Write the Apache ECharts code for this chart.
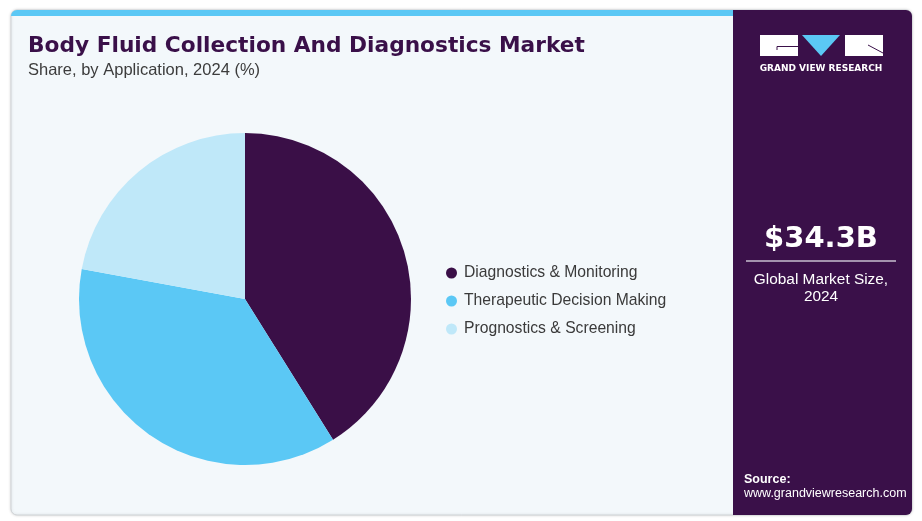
<!DOCTYPE html>
<html><head><meta charset="utf-8">
<script src="https://cdn.jsdelivr.net/npm/echarts@6/dist/echarts.min.js"></script>
<style>html,body{margin:0;padding:0;background:#fff;}#c{width:922px;height:521px;}</style>
</head><body><div id="c"></div>
<script>
const categories = ["Diagnostics & Monitoring", "Therapeutic Decision Making", "Prognostics & Screening"];
const shares = [41.1, 36.8, 22.1];
const colors = ["#3a0f47", "#5bc8f5", "#bfe8f9"];
const titleText = "Body Fluid Collection And Diagnostics Market";
const subtitleText = "Share, by Application, 2024 (%)";
const marketValue = "$34.3B";
const marketLabel = "Global Market Size,\n2024";

const chart = echarts.init(document.getElementById('c'));
chart.setOption({
  animation: false,
  backgroundColor: '#ffffff',
  graphic: [
    {type:'rect', z:-10, shape:{x:11,y:10,width:901,height:505,r:6}, style:{fill:'#f3f8fb', stroke:'#cfd3d6', lineWidth:1, shadowBlur:3, shadowColor:'rgba(0,0,0,0.15)'}},
    {type:'rect', z:-9, shape:{x:11,y:10,width:724,height:6,r:[6,0,0,0]}, style:{fill:'#5bc8f5'}},
    {type:'rect', z:-9, shape:{x:733,y:10,width:179,height:505,r:[0,6,6,0]}, style:{fill:'#3a1049'}},
    {type:'rect', shape:{x:760,y:35,width:38,height:21}, style:{fill:'#ffffff'}},
    {type:'polyline', shape:{points:[[777,50],[777,46.5],[798,46.5]]}, style:{stroke:'#3a1049', lineWidth:1, fill:null}},
    {type:'polygon', shape:{points:[[802,35],[840,35],[821,56]]}, style:{fill:'#5bc8f5'}},
    {type:'rect', shape:{x:845,y:35,width:38,height:21}, style:{fill:'#ffffff'}},
    {type:'polyline', shape:{points:[[868,45],[883,53]]}, style:{stroke:'#3a1049', lineWidth:1, fill:null}},
    {type:'text', style:{text:'GRAND VIEW RESEARCH', x:821, y:69, align:'center', verticalAlign:'middle', fill:'#ffffff', font:'bold 9px "DejaVu Sans"'}},
    {type:'text', style:{text:marketValue, x:821, y:239, align:'center', verticalAlign:'middle', fill:'#ffffff', font:'bold 29px "DejaVu Sans"'}},
    {type:'line', shape:{x1:746,y1:261,x2:896,y2:261}, style:{stroke:'#c9bfd0', lineWidth:1.5}},
    {type:'text', style:{text:marketLabel, x:821, y:288, align:'center', verticalAlign:'middle', fill:'#ffffff', font:'15.4px "Liberation Sans"', lineHeight:17}},
    {type:'text', style:{text:'Source:', x:744, y:480, verticalAlign:'middle', fill:'#ffffff', font:'bold 12.5px "Liberation Sans"'}},
    {type:'text', style:{text:'www.grandviewresearch.com', x:744, y:494, verticalAlign:'middle', fill:'#ffffff', font:'12.5px "Liberation Sans"'}},
    {type:'text', style:{text:titleText, x:28, y:46, verticalAlign:'middle', fill:'#3a1049', font:'bold 21.7px "DejaVu Sans"'}},
    {type:'text', style:{text:subtitleText, x:28, y:70, verticalAlign:'middle', fill:'#3c3c3c', font:'16.5px "Liberation Sans"'}}
  ],
  legend: {
    orient:'vertical', left:441, top:260, itemGap:12, icon:'circle', itemWidth:11, itemHeight:11,
    textStyle:{fontSize:15.7, color:'#3a3a3a', fontFamily:'Liberation Sans', padding:[0,0,0,2], lineHeight:16},
    data: categories
  },
  series: [{
    type:'pie', center:[245,299], radius:[0,166], startAngle:90, clockwise:true,
    label:{show:false}, labelLine:{show:false}, silent:true,
    itemStyle:{borderWidth:0},
    data: categories.map((n,i)=>({name:n, value:shares[i], itemStyle:{color:colors[i]}}))
  }]
});
</script></body></html>
